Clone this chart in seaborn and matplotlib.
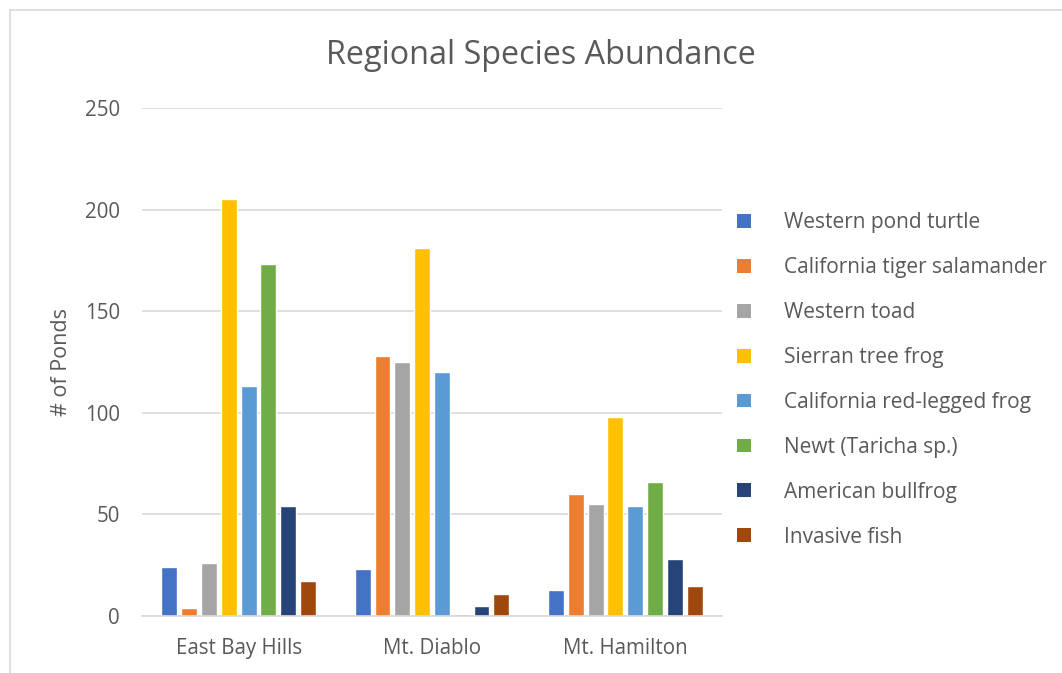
import matplotlib
matplotlib.use("Agg")
import matplotlib.pyplot as plt
import seaborn as sns
import pandas as pd
from matplotlib.lines import Line2D
from matplotlib.patches import Patch

REGIONS = ["East Bay Hills", "Mt. Diablo", "Mt. Hamilton"]
SPECIES = [
    "Western pond turtle",
    "California tiger salamander",
    "Western toad",
    "Sierran tree frog",
    "California red-legged frog",
    "Newt (Taricha sp.)",
    "American bullfrog",
    "Invasive fish",
]
EAST_BAY_HILLS = [24, 4, 26, 205, 113, 173, 54, 17]
MT_DIABLO = [23, 128, 125, 181, 120, 1, 5, 11]
MT_HAMILTON = [13, 60, 55, 98, 54, 66, 28, 15]
COLORS = ["#4472C4", "#ED7D31", "#A5A5A5", "#FFC000",
          "#5B9BD5", "#70AD47", "#264478", "#9E480E"]
Y_TICKS = [0, 50, 100, 150, 200, 250]

rows = []
for region, vals in zip(REGIONS, [EAST_BAY_HILLS, MT_DIABLO, MT_HAMILTON]):
    for sp, v in zip(SPECIES, vals):
        rows.append({"region": region, "species": sp, "ponds": v})
df = pd.DataFrame(rows)

sns.set_style("white")
plt.rcParams["font.family"] = ["Open Sans", "DejaVu Sans"]
grey = "#595959"

fig = plt.figure(figsize=(10.62, 6.73), dpi=100)
ax = fig.add_axes([142 / 1062, 57 / 673, 580 / 1062, 508 / 673])

sns.barplot(data=df, x="region", y="ponds", hue="species",
            order=REGIONS, hue_order=SPECIES, palette=COLORS,
            width=0.82, gap=0.2, dodge=True, ax=ax, legend=False,
            saturation=1)

ax.set_ylim(0, 250)
ax.set_yticks(Y_TICKS)
ax.set_xlim(-0.5, 2.5)
ax.yaxis.grid(True, color="#D9D9D9", linewidth=1.2)
ax.set_axisbelow(True)
for s in ["top", "right", "left"]:
    ax.spines[s].set_visible(False)
ax.spines["bottom"].set_color("#D9D9D9")
ax.spines["bottom"].set_linewidth(1.2)
ax.tick_params(axis="both", length=0, labelsize=14.8, colors=grey)
ax.tick_params(axis="y", pad=16)
ax.tick_params(axis="x", pad=16)
ax.set_xlabel("")
ax.set_ylabel("# of Ponds", fontsize=15.5, color=grey, labelpad=9)

fig.text(541 / 1062, 1 - 55 / 673, "Regional Species Abundance",
         ha="center", va="center", fontsize=23.3, color=grey)

handles = [Patch(facecolor=c, edgecolor="none") for c in COLORS]
fig.legend(handles, SPECIES, loc="upper left",
           bbox_to_anchor=(737 / 1062, 1 - 212 / 673),
           frameon=False, fontsize=15, labelcolor=grey,
           handlelength=0.65, handleheight=0.65, handletextpad=1.62,
           labelspacing=1.15, borderaxespad=0, borderpad=0)

# chart frame (cropped at right and bottom)
fig.add_artist(Line2D([10 / 1062, 10 / 1062], [0, 1 - 10 / 673],
                      transform=fig.transFigure, color="#D9D9D9", lw=1.2))
fig.add_artist(Line2D([10 / 1062, 1], [1 - 10 / 673, 1 - 10 / 673],
                      transform=fig.transFigure, color="#D9D9D9", lw=1.2))

fig.savefig("out.png", dpi=100)
